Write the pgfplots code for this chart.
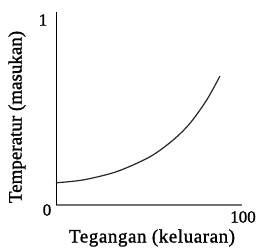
\documentclass[border=0pt]{standalone}
\usepackage{fontspec}
\setmainfont{Liberation Serif}[FakeBold=1.2]
\usepackage{pgfplots}
\pgfplotsset{compat=1.18}
\begin{document}
\begin{tikzpicture}
\path[use as bounding box] (-56pt,-43pt) rectangle (201pt,205pt);
\begin{axis}[
  at={(0pt,0pt)}, anchor=south west,
  scale only axis,
  width=184pt, height=193pt,
  xmin=0, xmax=100, ymin=0, ymax=1,
  axis lines=left,
  axis line style={-},
  x axis line style={draw=black!55, line width=2.5pt, shorten <=-0.5pt, shorten >=-2pt},
  y axis line style={draw=black, line width=1pt},
  xtick=\empty, ytick=\empty,
  clip=false,
]
\addplot[smooth, black!85, line width=1.2pt] coordinates {
(0,0.115) (14.8,0.130) (33.0,0.173) (51.1,0.250) (63.7,0.337) (72.8,0.423) (81.9,0.544) (89.1,0.668)
};
\end{axis}
\fontsize{17}{20}\selectfont
\node at (-13pt,185pt) {1};
\node at (-9pt,-5pt) {0};
\node at (187pt,-12pt) {100};
\node[font=\fontsize{19}{22}\selectfont] at (96pt,-33pt) {\addfontfeatures{LetterSpace=3}Tegangan (keluaran)};
\node[font=\fontsize{19}{22}\selectfont, rotate=90] at (-39pt,88pt) {Temperatur (masukan)};
\end{tikzpicture}
\end{document}
